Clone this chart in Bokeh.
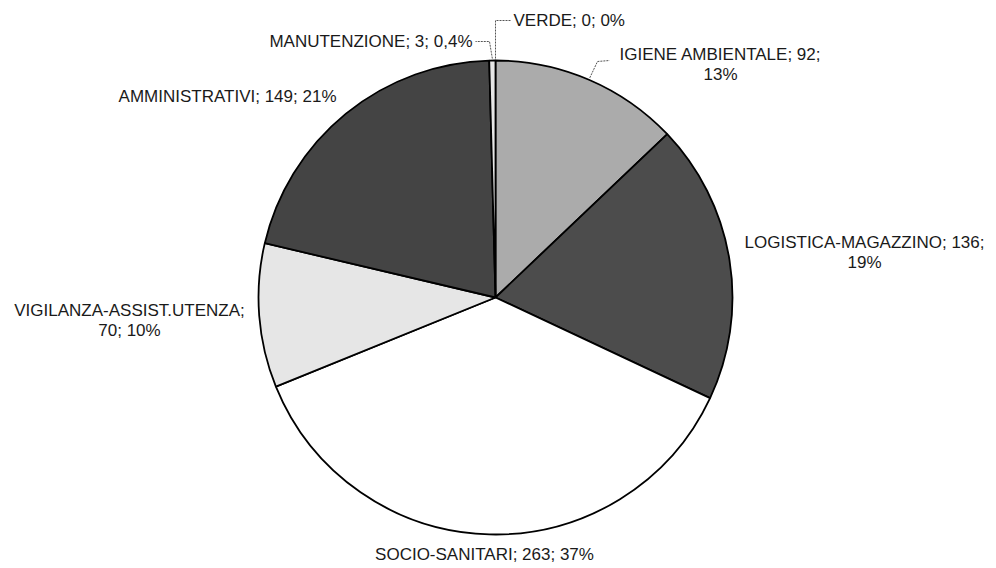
import math
from bokeh.plotting import figure
from bokeh.models import ColumnDataSource, Range1d
from bokeh.embed import file_html
from bokeh.resources import INLINE
from bokeh.core.properties import value

# ---- data ----
categories = ["VERDE", "IGIENE AMBIENTALE", "LOGISTICA-MAGAZZINO", "SOCIO-SANITARI",
              "VIGILANZA-ASSIST.UTENZA", "AMMINISTRATIVI", "MANUTENZIONE"]
counts = [0, 92, 136, 263, 70, 149, 3]

# ---- styles ----
colors = ["#ffffff", "#ababab", "#4c4c4c", "#ffffff", "#e6e6e6", "#444444", "#e6e6e6"]
FONT = "Liberation Sans"
FS = "17px"

# ---- layout (picture pixels) ----
W, H = 996, 568
CX, CY, R = 495, 297, 237
label_x = [513, 720, 864, 484, 129, 336, 472]
label_y = [20, 64, 252, 554, 320, 96, 41]
label_align = ["left", "center", "center", "center", "center", "right", "right"]
sep1 = ["; ", "; ", "; ", "; ", ";\n", "; ", "; "]
sep2 = ["; ", ";\n", ";\n", "; ", "; ", "; ", "; "]
leader_pts = {0: [(495, 20), (511, 20)],
              6: [(489, 41), (475, 41)],
              1: [(597, 61), (609, 60)]}


def dy(y):
    return H - y  # picture y -> data y


total = sum(counts)


def pct_label(c):
    p = c / total * 100
    if p == 0:
        return "0%"
    if p < 1:
        return f"{p:.1f}".replace(".", ",") + "%"
    return f"{round(p)}%"


starts, ends, cum = [], [], 0
for c in counts:
    a0 = math.pi / 2 - cum / total * 2 * math.pi
    cum += c
    a1 = math.pi / 2 - cum / total * 2 * math.pi
    starts.append(a0)
    ends.append(a1)

idx = [i for i, c in enumerate(counts) if c > 0]
wsrc = ColumnDataSource(dict(
    start=[starts[i] for i in idx], end=[ends[i] for i in idx],
    color=[colors[i] for i in idx], name=[categories[i] for i in idx]))

p = figure(width=W, height=H, output_backend="svg", toolbar_location=None,
           x_range=Range1d(0, W), y_range=Range1d(0, H),
           min_border=0, outline_line_color=None, background_fill_color="white")
p.axis.visible = False
p.grid.visible = False

p.wedge(x=CX, y=dy(CY), radius=R, start_angle="start", end_angle="end",
        direction="clock", fill_color="color", line_color="black",
        line_width=1.8, source=wsrc)

lx, ly = [], []
for i, pts in leader_pts.items():
    mid = (starts[i] + ends[i]) / 2
    sx = CX + (R + 2) * math.cos(mid)
    sy = dy(CY) + (R + 2) * math.sin(mid)
    lx.append([sx] + [q[0] for q in pts])
    ly.append([sy] + [dy(q[1]) for q in pts])
p.multi_line(xs=lx, ys=ly, line_color="#555555", line_width=1, line_dash="2 1")

texts = [f"{categories[i]}{sep1[i]}{counts[i]}{sep2[i]}{pct_label(counts[i])}"
         for i in range(len(categories))]
for align in ("left", "center", "right"):
    sel = [i for i in range(len(texts)) if label_align[i] == align]
    src = ColumnDataSource(dict(x=[label_x[i] for i in sel],
                                y=[dy(label_y[i]) for i in sel],
                                t=[texts[i] for i in sel]))
    p.text(x="x", y="y", text="t", source=src, text_font=value(FONT),
           text_font_size=FS, text_align=align, text_baseline="middle",
           text_color="#1a1a1a", text_line_height=1.1)

open("out.html", "w").write(file_html(p, INLINE))
